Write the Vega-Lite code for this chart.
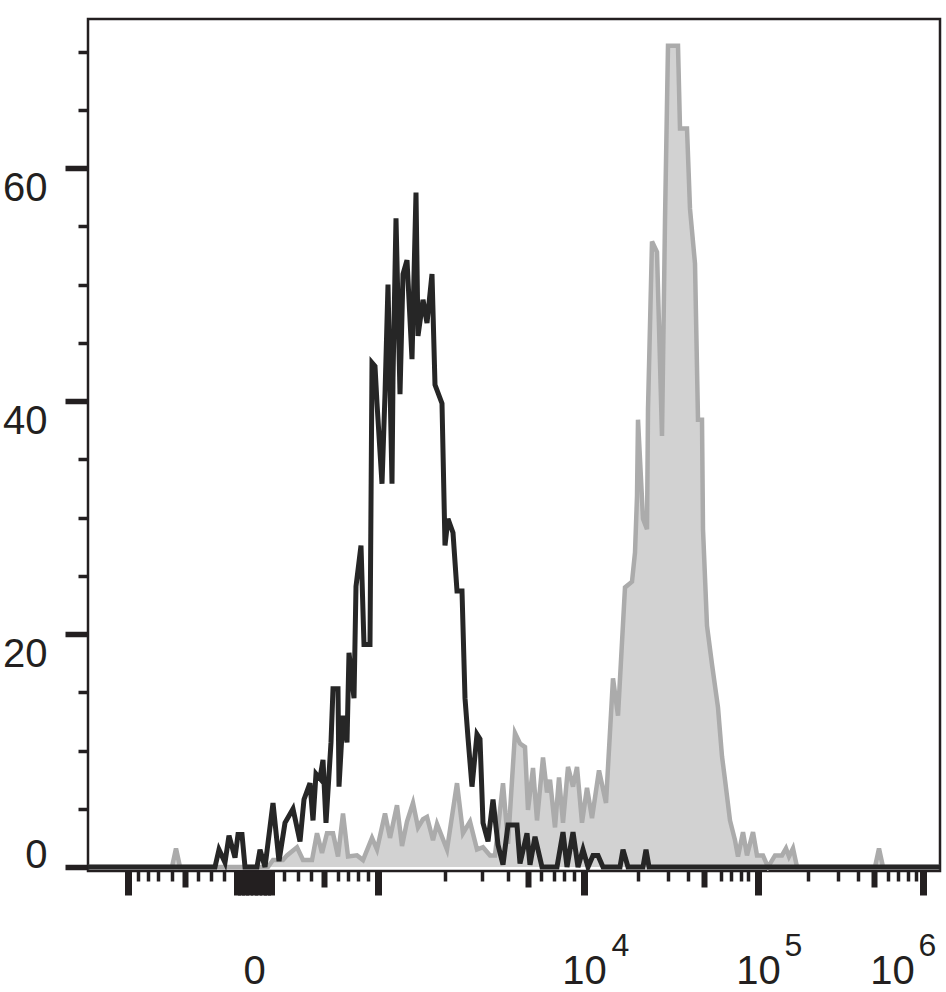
{
  "$schema": "https://vega.github.io/schema/vega-lite/v6.json",
  "width": 852,
  "height": 852,
  "autosize": {"type": "none"},
  "padding": {"left": 88, "top": 19, "right": 6, "bottom": 121},
  "background": "white",
  "config": {
    "view": {"stroke": "#231f20", "strokeWidth": 2.5},
    "axis": {"grid": false, "domain": false, "title": null, "labelFont": "Liberation Sans", "labelColor": "#231f20", "tickColor": "#231f20", "labelOverlap": false, "labelFlush": false, "labelBound": false}
  },
  "datasets": {
    "neg": [
      {"ch": 0, "count": 0}, {"ch": 127, "count": 0}, {"ch": 131, "count": 1.5}, {"ch": 137, "count": 0.4},
      {"ch": 141, "count": 2.7}, {"ch": 147, "count": 0.8}, {"ch": 150, "count": 2.8}, {"ch": 154, "count": 2.8},
      {"ch": 157, "count": 0}, {"ch": 169, "count": 0}, {"ch": 172, "count": 1.5}, {"ch": 177, "count": 0},
      {"ch": 185, "count": 5.5}, {"ch": 191, "count": 0.5}, {"ch": 197, "count": 3.8}, {"ch": 205, "count": 5.0},
      {"ch": 212, "count": 2.2}, {"ch": 216, "count": 5.8}, {"ch": 222, "count": 7.2}, {"ch": 225, "count": 4.0},
      {"ch": 228, "count": 8.0}, {"ch": 232, "count": 7.6}, {"ch": 235, "count": 9.2}, {"ch": 238, "count": 3.8},
      {"ch": 243, "count": 10.7}, {"ch": 245, "count": 15.3}, {"ch": 250, "count": 15.3}, {"ch": 251, "count": 6.9},
      {"ch": 255, "count": 13.0}, {"ch": 259, "count": 10.7}, {"ch": 261, "count": 18.4}, {"ch": 266, "count": 14.5},
      {"ch": 268, "count": 24.1}, {"ch": 273, "count": 27.6}, {"ch": 276, "count": 19.1}, {"ch": 282, "count": 19.1},
      {"ch": 284, "count": 43.3}, {"ch": 287, "count": 43.0}, {"ch": 289, "count": 39.8}, {"ch": 294, "count": 32.9},
      {"ch": 297, "count": 40.6}, {"ch": 300, "count": 50.0}, {"ch": 304, "count": 32.9}, {"ch": 305, "count": 42.0},
      {"ch": 308, "count": 55.7}, {"ch": 312, "count": 40.6}, {"ch": 315, "count": 50.9}, {"ch": 319, "count": 52.1},
      {"ch": 324, "count": 43.6}, {"ch": 328, "count": 57.9}, {"ch": 330, "count": 45.6}, {"ch": 335, "count": 48.7},
      {"ch": 339, "count": 46.7}, {"ch": 344, "count": 50.9}, {"ch": 347, "count": 41.4}, {"ch": 354, "count": 39.8},
      {"ch": 357, "count": 27.6}, {"ch": 360, "count": 29.9}, {"ch": 365, "count": 28.7}, {"ch": 369, "count": 23.7},
      {"ch": 374, "count": 23.7}, {"ch": 377, "count": 14.5}, {"ch": 380, "count": 11.1}, {"ch": 384, "count": 6.9},
      {"ch": 389, "count": 11.4}, {"ch": 392, "count": 11.0}, {"ch": 395, "count": 3.8}, {"ch": 400, "count": 2.2},
      {"ch": 405, "count": 5.8}, {"ch": 410, "count": 1.9}, {"ch": 415, "count": 0.2}, {"ch": 420, "count": 3.6},
      {"ch": 429, "count": 3.6}, {"ch": 432, "count": 0.3}, {"ch": 439, "count": 2.9}, {"ch": 442, "count": 0.2},
      {"ch": 447, "count": 2.6}, {"ch": 454, "count": 0}, {"ch": 469, "count": 0}, {"ch": 475, "count": 3.0},
      {"ch": 479, "count": 0}, {"ch": 485, "count": 3.0}, {"ch": 490, "count": 0}, {"ch": 495, "count": 1.5},
      {"ch": 500, "count": 0}, {"ch": 505, "count": 1.0}, {"ch": 510, "count": 1.0}, {"ch": 515, "count": 0},
      {"ch": 532, "count": 0}, {"ch": 535, "count": 1.5}, {"ch": 540, "count": 0}, {"ch": 555, "count": 0},
      {"ch": 558, "count": 1.5}, {"ch": 561, "count": 0}, {"ch": 852, "count": 0}
    ],
    "pos": [
      {"ch": 0, "count": 0}, {"ch": 84, "count": 0}, {"ch": 88, "count": 1.6}, {"ch": 92, "count": 0},
      {"ch": 180, "count": 0}, {"ch": 185, "count": 0.6}, {"ch": 195, "count": 0.6}, {"ch": 199, "count": 1.0},
      {"ch": 209, "count": 1.7}, {"ch": 215, "count": 0.6}, {"ch": 224, "count": 0.6}, {"ch": 229, "count": 2.9},
      {"ch": 234, "count": 1.2}, {"ch": 239, "count": 2.9}, {"ch": 245, "count": 2.9}, {"ch": 250, "count": 0.9},
      {"ch": 255, "count": 4.6}, {"ch": 260, "count": 0.9}, {"ch": 269, "count": 1.0}, {"ch": 275, "count": 0.6},
      {"ch": 284, "count": 2.5}, {"ch": 289, "count": 1.5}, {"ch": 297, "count": 4.6}, {"ch": 302, "count": 2.5},
      {"ch": 309, "count": 5.3}, {"ch": 314, "count": 1.8}, {"ch": 319, "count": 3.9}, {"ch": 325, "count": 5.5},
      {"ch": 330, "count": 3.4}, {"ch": 335, "count": 4.1}, {"ch": 339, "count": 4.3}, {"ch": 345, "count": 2.3},
      {"ch": 349, "count": 3.7}, {"ch": 359, "count": 1.5}, {"ch": 369, "count": 7.2}, {"ch": 375, "count": 2.9},
      {"ch": 382, "count": 3.9}, {"ch": 389, "count": 1.5}, {"ch": 395, "count": 1.7}, {"ch": 402, "count": 1.0},
      {"ch": 407, "count": 1.0}, {"ch": 415, "count": 7.2}, {"ch": 420, "count": 2.0}, {"ch": 427, "count": 11.5},
      {"ch": 432, "count": 10.6}, {"ch": 437, "count": 10.3}, {"ch": 440, "count": 4.9}, {"ch": 445, "count": 8.5},
      {"ch": 449, "count": 4.0}, {"ch": 455, "count": 9.4}, {"ch": 459, "count": 6.4}, {"ch": 462, "count": 7.5},
      {"ch": 467, "count": 3.4}, {"ch": 471, "count": 7.7}, {"ch": 475, "count": 3.8}, {"ch": 480, "count": 8.6},
      {"ch": 485, "count": 6.9}, {"ch": 489, "count": 8.6}, {"ch": 494, "count": 3.8}, {"ch": 499, "count": 6.8},
      {"ch": 504, "count": 4.2}, {"ch": 511, "count": 8.3}, {"ch": 518, "count": 5.5}, {"ch": 525, "count": 16.2},
      {"ch": 530, "count": 13.0}, {"ch": 537, "count": 24.0}, {"ch": 544, "count": 24.5}, {"ch": 547, "count": 27.0},
      {"ch": 549, "count": 31.8}, {"ch": 550, "count": 38.4}, {"ch": 555, "count": 29.9}, {"ch": 559, "count": 29.0},
      {"ch": 560, "count": 39.3}, {"ch": 564, "count": 53.7}, {"ch": 569, "count": 52.8}, {"ch": 574, "count": 37.0},
      {"ch": 577, "count": 55.5}, {"ch": 580, "count": 70.5}, {"ch": 590, "count": 70.5}, {"ch": 592, "count": 63.4},
      {"ch": 599, "count": 63.4}, {"ch": 602, "count": 56.5}, {"ch": 607, "count": 51.8}, {"ch": 610, "count": 38.4},
      {"ch": 614, "count": 38.4}, {"ch": 615, "count": 29.0}, {"ch": 619, "count": 20.7}, {"ch": 624, "count": 17.4},
      {"ch": 630, "count": 13.7}, {"ch": 634, "count": 9.5}, {"ch": 637, "count": 7.5}, {"ch": 642, "count": 4.0},
      {"ch": 647, "count": 2.3}, {"ch": 650, "count": 0.9}, {"ch": 655, "count": 3.0}, {"ch": 659, "count": 1.0},
      {"ch": 665, "count": 3.0}, {"ch": 669, "count": 1.0}, {"ch": 675, "count": 1.0}, {"ch": 680, "count": 0},
      {"ch": 687, "count": 1.0}, {"ch": 694, "count": 1.0}, {"ch": 698, "count": 1.6}, {"ch": 701, "count": 0.9},
      {"ch": 705, "count": 1.6}, {"ch": 709, "count": 0}, {"ch": 787, "count": 0}, {"ch": 791, "count": 1.6},
      {"ch": 795, "count": 0}, {"ch": 852, "count": 0}
    ]
  },
  "layer": [
    {
      "data": {"name": "pos"},
      "mark": {"type": "area", "color": "#d2d2d2", "clip": true},
      "encoding": {
        "x": {
          "field": "ch", "type": "quantitative",
          "scale": {"domain": [0, 852], "nice": false, "zero": false},
          "axis": {
            "tickCount": 500,
            "values": [40, 50, 60, 70, 84, 97, 110, 123, 136, 149, 153, 157, 161, 166, 170, 175, 179, 183, 196, 210, 223, 236, 250, 260, 270, 280, 290, 357, 394, 420, 440, 453, 466, 476, 486, 496, 532, 550, 580, 600, 616, 633, 643, 653, 660, 670, 705, 720, 750, 770, 786, 800, 804, 810, 820, 828, 835, 839],
            "labelExpr": "datum.value == 166 ? '0' : (datum.value == 496 || datum.value == 670 || datum.value == 804) ? '10' : datum.value == 532 ? '4' : datum.value == 705 ? '5' : datum.value == 839 ? '6' : ''",
            "labelBaseline": "alphabetic",
            "labelFontSize": {"condition": {"test": "datum.value == 532 || datum.value == 705 || datum.value == 839", "value": 32}, "value": 40},
            "tickSize": {"condition": [
              {"test": "indexof([40,149,153,157,161,166,170,175,179,183,290,496,670,835], datum.value) >= 0", "value": 24},
              {"test": "indexof([97,236,440,616,786], datum.value) >= 0", "value": 16},
              {"test": "indexof([532,705,804,839], datum.value) >= 0", "value": 0}
            ], "value": 10},
            "tickWidth": {"condition": [
              {"test": "indexof([40,149,153,157,161,166,170,175,179,183,290,496,670,835], datum.value) >= 0", "value": 7},
              {"test": "indexof([97,236,440,616,786], datum.value) >= 0", "value": 6}
            ], "value": 3.5},
            "labelPadding": {"condition": [
              {"test": "datum.value == 532 || datum.value == 705 || datum.value == 839", "value": 84},
              {"test": "datum.value == 804", "value": 112}
            ], "value": 88}
          }
        },
        "y": {
          "field": "count", "type": "quantitative",
          "scale": {"domain": [-0.34, 72.8], "nice": false, "zero": false},
          "axis": {
            "tickCount": 100,
            "values": [0, 5, 10, 15, 20, 25, 30, 35, 40, 45, 50, 55, 60, 65, 70],
            "labelExpr": "datum.value % 20 == 0 ? datum.label : ''",
            "labelFontSize": 40,
            "labelPadding": 18,
            "labelBaseline": {"condition": {"test": "datum.value == 0", "value": "alphabetic"}, "value": "top"},
            "tickSize": {"condition": {"test": "datum.value % 20 == 0", "value": 23}, "value": 10},
            "tickWidth": {"condition": {"test": "datum.value % 20 == 0", "value": 5.5}, "value": 3.5}
          }
        }
      }
    },
    {
      "data": {"name": "pos"},
      "mark": {"type": "line", "color": "#ababab", "strokeWidth": 4.5, "clip": true},
      "encoding": {
        "x": {"field": "ch", "type": "quantitative"},
        "y": {"field": "count", "type": "quantitative"}
      }
    },
    {
      "data": {"name": "neg"},
      "mark": {"type": "line", "color": "#262626", "strokeWidth": 5, "clip": true},
      "encoding": {
        "x": {"field": "ch", "type": "quantitative"},
        "y": {"field": "count", "type": "quantitative"}
      }
    }
  ]
}
